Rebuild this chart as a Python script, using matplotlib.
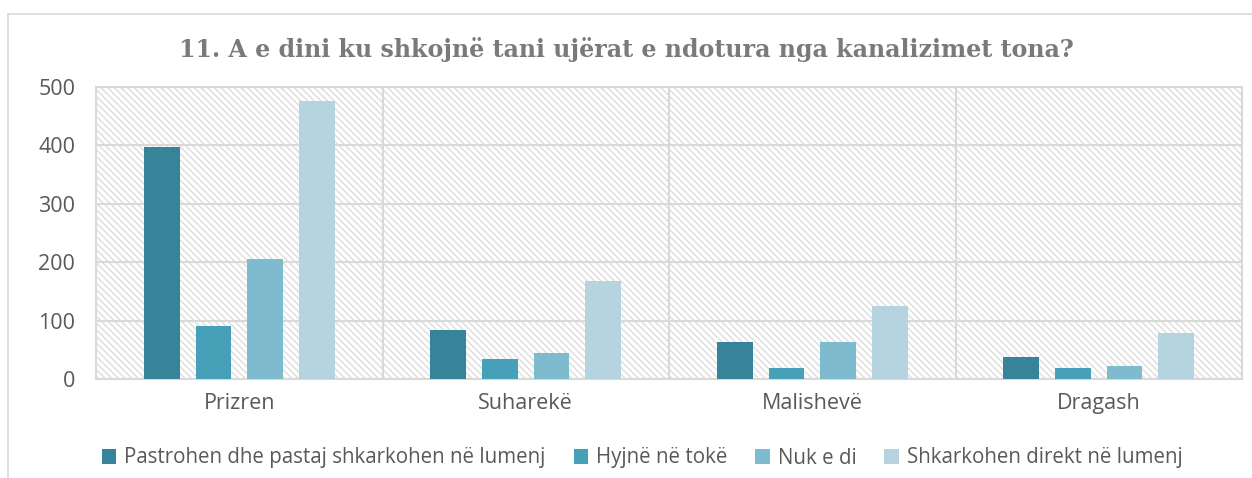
import numpy as np
import matplotlib
matplotlib.use("Agg")
import matplotlib.pyplot as plt
from matplotlib.patches import Rectangle
from matplotlib.lines import Line2D

# data
categories = ["Prizren", "Suharekë", "Malishevë", "Dragash"]
series_names = [
    "Pastrohen dhe pastaj shkarkohen në lumenj",
    "Hyjnë në tokë",
    "Nuk e di",
    "Shkarkohen direkt në lumenj",
]
pastrohen = [397, 84, 63, 37]
hyjne = [90, 34, 18, 18]
nuk_e_di = [205, 45, 64, 22]
direkt = [476, 167, 125, 79]
y_ticks = [0, 100, 200, 300, 400, 500]

title = "11. A e dini ku shkojnë tani ujërat e ndotura nga kanalizimet tona?"
colors = ["#37849a", "#46a1b8", "#7fbbcf", "#b6d4df"]
grid_color = "#d9d9d9"
text_color = "#595959"

plt.rcParams["hatch.linewidth"] = 1.0
plt.rcParams["hatch.color"] = "#dcdcdc"

fig = plt.figure(figsize=(12.52, 4.78), dpi=100)
ax = fig.add_axes([96 / 1252, 1 - 379 / 478, (1242 - 96) / 1252, (379 - 87) / 478])

# hatched plot-area background
ax.add_patch(Rectangle((0, 0), 1, 1, transform=ax.transAxes, facecolor="white",
                       hatch="\\\\\\\\\\", edgecolor="#dcdcdc", linewidth=0, zorder=0))

x = np.arange(len(categories))
width = 0.125
step = 0.18
all_series = [pastrohen, hyjne, nuk_e_di, direkt]
for k, (vals, name, col) in enumerate(zip(all_series, series_names, colors)):
    ax.bar(x + (k - 1.5) * step, vals, width, color=col, label=name, zorder=3)

ax.set_xlim(-0.5, len(categories) - 0.5)
ax.set_ylim(0, 500)
ax.set_yticks(y_ticks)
ax.set_xticks(x)
ax.set_xticklabels(categories)
ax.set_xticks(np.arange(len(categories) - 1) + 0.5, minor=True)
ax.tick_params(axis="both", which="both", length=0, labelsize=15.5, labelcolor=text_color)
ax.tick_params(axis="x", pad=10)
ax.tick_params(axis="y", pad=15)
for lab in ax.get_xticklabels() + ax.get_yticklabels():
    lab.set_fontfamily("Open Sans")

ax.grid(axis="y", which="major", color=grid_color, linewidth=1.5, zorder=1)
ax.grid(axis="x", which="minor", color=grid_color, linewidth=1.5, zorder=1)
ax.set_axisbelow(True)
for sp in ax.spines.values():
    sp.set_color(grid_color)
    sp.set_linewidth(1.5)

fig.text(0.5, 1 - 50 / 478, title, ha="center", va="center", fontsize=17.1,
         fontweight="bold", family="DejaVu Serif", color="#7a7a7a")

handles, labels = ax.get_legend_handles_labels()
leg = fig.legend(handles, labels, loc="center", bbox_to_anchor=(0.513, 1 - 458 / 478),
                 ncol=4, frameon=False, handlelength=0.7, handleheight=0.7,
                 handletextpad=0.4, columnspacing=1.35,
                 prop={"family": "Open Sans", "size": 14.8})
for t in leg.get_texts():
    t.set_color(text_color)

# chart frame (left and top edges visible in the crop)
fig.add_artist(Line2D([8 / 1252, 8 / 1252], [0, 1 - 14 / 478], transform=fig.transFigure,
                      color=grid_color, linewidth=1.2))
fig.add_artist(Line2D([8 / 1252, 1], [1 - 14 / 478, 1 - 14 / 478], transform=fig.transFigure,
                      color=grid_color, linewidth=1.2))

fig.savefig("out.png", dpi=100)
